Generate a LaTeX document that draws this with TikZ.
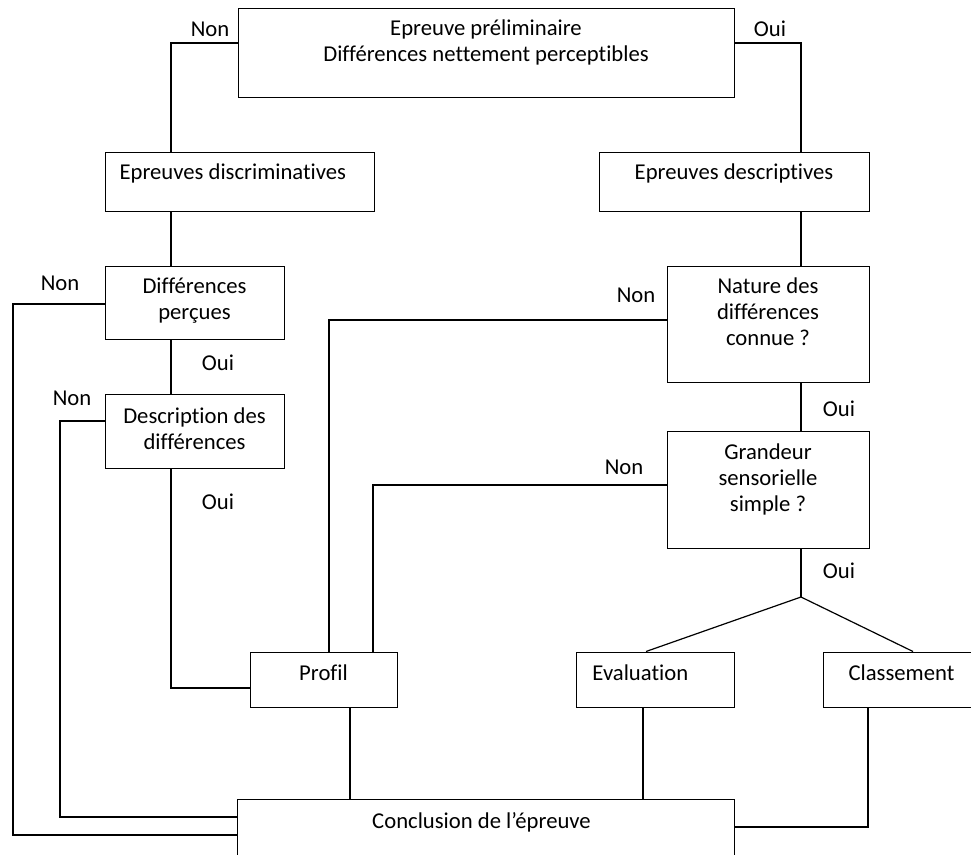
\documentclass[tikz,border=0pt]{standalone}
\usepackage{fontspec}
\setmainfont{Carlito}[Ligatures=NoCommon]
\usetikzlibrary{positioning,fit}

\tikzset{every picture/.style={line width=0.75pt}}
\tikzset{
  boite/.style={draw, inner sep=0pt, line width=0.75pt},
  texte/.style={anchor=north, inner sep=0pt, align=center, font=\fontsize{17}{19.5}\selectfont},
  etiq/.style={inner sep=0pt, font=\fontsize{17}{19.5}\selectfont},
  lien/.style={line width=1.6pt},
  branche/.style={line width=0.9pt}
}

\begin{document}
\begin{tikzpicture}[x=0.75pt,y=0.75pt,yscale=-1,xscale=1]
\useasboundingbox (0,0) rectangle (971,854);

%Boxes
\node[boite, fit={(238,8) (734,97)}] (prelim) {};
\node[boite, fit={(105,152) (374,211)}] (discr) {};
\node[boite, fit={(599,152) (869,211)}] (descr) {};
\node[boite, fit={(105,266) (284,339)}] (percues) {};
\node[boite, fit={(667,266) (869,382)}] (nature) {};
\node[boite, fit={(105,394) (284,468)}] (descdiff) {};
\node[boite, fit={(667,431) (869,548)}] (grandeur) {};
\node[boite, fit={(250,652) (397,707)}] (profil) {};
\node[boite, fit={(576,652) (734,707)}] (evaluation) {};
\node[boite, fit={(823,652) (980,707)}] (classement) {};
\node[boite, fit={(237,799) (734,860)}] (conclusion) {};

%Texts
\node[texte, below=9pt of prelim.north] {Epreuve préliminaire\\Différences nettement perceptibles};
\node[texte, below=9pt of discr.north, xshift=-5pt] {Epreuves discriminatives};
\node[texte, below=9pt of descr.north] {Epreuves descriptives};
\node[texte, below=9pt of percues.north] {Différences\\perçues};
\node[texte, below=9pt of nature.north] {Nature des\\différences\\connue ?};
\node[texte, below=10pt of descdiff.north] {Description des\\différences};
\node[texte, below=9.5pt of grandeur.north] {Grandeur\\sensorielle\\simple ?};
\node[texte, below=9.5pt of profil.north] {Profil};
\node[texte, below=9.5pt of evaluation.north, xshift=-11pt] {Evaluation};
\node[texte, below=9.5pt of classement.north] {Classement};
\node[texte, below=10pt of conclusion.north, xshift=-3pt] {Conclusion de l’épreuve};

%Columns and rows
\coordinate (xa) at (13,0);
\coordinate (xb) at (60,0);
\coordinate (xc) at (171,0);
\coordinate (xd) at (329,0);
\coordinate (xe) at (373,0);
\coordinate (xf) at (350,0);
\coordinate (xg) at (643,0);
\coordinate (xh) at (801,0);
\coordinate (xi) at (868,0);
\coordinate (xj) at (646,0);
\coordinate (xk) at (913,0);
\coordinate (ya) at (0,43);
\coordinate (yb) at (0,304);
\coordinate (yc) at (0,320);
\coordinate (yd) at (0,421);
\coordinate (ye) at (0,485);
\coordinate (yf) at (0,688);
\coordinate (yg) at (0,817);
\coordinate (yh) at (0,835);
\coordinate (yi) at (0,827);
\coordinate (fourche) at (801,597);

%Connectors
\draw[lien] (prelim.west |- ya) -| (discr.north -| xc);
\draw[lien] (prelim.east |- ya) -| (descr.north -| xh);
\draw[lien] (discr.south -| xc) -- (percues.north -| xc);
\draw[lien] (descr.south -| xh) -- (nature.north -| xh);
\draw[lien] (percues.west |- yb) -| (xa |- yh) -- (conclusion.west |- yh);
\draw[lien] (percues.south -| xc) -- (descdiff.north -| xc);
\draw[lien] (descdiff.west |- yd) -| (xb |- yg) -- (conclusion.west |- yg);
\draw[lien] (descdiff.south -| xc) |- (profil.west |- yf);
\draw[lien] (nature.west |- yc) -| (profil.north -| xd);
\draw[lien] (nature.south -| xh) -- (grandeur.north -| xh);
\draw[lien] (grandeur.west |- ye) -| (profil.north -| xe);
\draw[lien] (grandeur.south -| xh) -- (fourche);
\draw[branche] (evaluation.north -| xj) -- (fourche) -- (classement.north -| xk);
\draw[lien] (profil.south -| xf) -- (conclusion.north -| xf);
\draw[lien] (evaluation.south -| xg) -- (conclusion.north -| xg);
\draw[lien] (classement.south -| xi) |- (conclusion.east |- yi);

%Labels
\node[etiq] (non1) at (210,29) {Non};
\node[etiq] (oui1) at (770,29) {Oui};
\node[etiq] (non2) at (60,283) {Non};
\node[etiq] (oui2) at (218,363) {Oui};
\node[etiq] (non3) at (72,398) {Non};
\node[etiq] (oui3) at (218,502) {Oui};
\node[etiq] (non4) at (636,295) {Non};
\node[etiq] (oui4) at (839,409) {Oui};
\node[etiq] (non5) at (624,467) {Non};
\node[etiq] (oui5) at (839,571) {Oui};

\end{tikzpicture}
\end{document}
